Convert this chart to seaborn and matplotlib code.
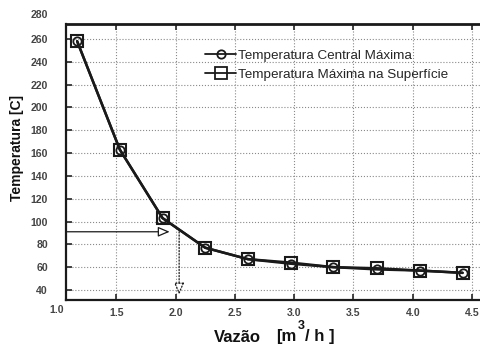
import matplotlib
matplotlib.use("Agg")
import matplotlib.pyplot as plt
from matplotlib.lines import Line2D
import numpy as np
import pandas as pd
import seaborn as sns

# ---- data ----
vazao = [1.17, 1.53, 1.89, 2.25, 2.61, 2.97, 3.33, 3.70, 4.06, 4.42]
temp_central = [258, 163, 103, 77, 67, 63, 60, 58, 57, 55]
temp_superficie = [258, 163, 103, 77, 67, 64, 60, 59, 57, 55]
series_names = ["Temperatura Central Máxima", "Temperatura Máxima na Superfície"]
x_ticks = [1.5, 2.0, 2.5, 3.0, 3.5, 4.0, 4.5]
y_ticks = [40, 60, 80, 100, 120, 140, 160, 180, 200, 220, 240, 260]
extra_x_label = "1.0"
extra_y_label = "280"
design_temp = 91
design_flow = 2.03

sns.set_style("white")
plt.rcParams["font.family"] = ["Liberation Sans", "DejaVu Sans"]

df = pd.DataFrame({
    "Vazão": vazao * 2,
    "Temperatura": temp_central + temp_superficie,
    "Série": [series_names[0]] * len(vazao) + [series_names[1]] * len(vazao),
})

fig = plt.figure(figsize=(4.8, 3.44), dpi=100)
ax = fig.add_axes([66 / 480, 44 / 344, 414 / 480, 276 / 344])

sns.lineplot(data=df[df["Série"] == series_names[1]], x="Vazão", y="Temperatura",
             ax=ax, color="#1a1a1a", lw=1.8, marker="s", markersize=8,
             markerfacecolor="none", markeredgecolor="#1a1a1a", markeredgewidth=1.5,
             legend=False)
sns.lineplot(data=df[df["Série"] == series_names[0]], x="Vazão", y="Temperatura",
             ax=ax, color="#1a1a1a", lw=1.8, marker="o", markersize=6,
             markerfacecolor="none", markeredgecolor="#1a1a1a", markeredgewidth=1.3,
             legend=False)

ax.set_xlim(1.076, 4.567)
ax.set_ylim(31.2, 273.1)
ax.set_xticks(x_ticks)
ax.set_yticks(y_ticks)
ax.set_xticklabels([f"{v:.1f}" for v in x_ticks])
ax.set_yticklabels([str(v) for v in y_ticks])
ax.grid(True, ls=":", color="#8a8a8a", lw=0.8)

for s in ["left", "bottom", "top"]:
    ax.spines[s].set_visible(True)
    ax.spines[s].set_color("#1a1a1a")
    ax.spines[s].set_linewidth(1.6)
ax.spines["top"].set_linewidth(2.0)
ax.spines["right"].set_visible(False)

tick_fs = 7.6
tick_col = "#444444"
ax.tick_params(axis="x", direction="in", top=True, bottom=True, length=4, width=1.2,
               pad=5.5, labelsize=tick_fs, labelcolor=tick_col)
ax.tick_params(axis="y", direction="in", left=True, length=4, width=1.2,
               pad=13, labelsize=tick_fs, labelcolor=tick_col)
for lab in ax.get_xticklabels() + ax.get_yticklabels():
    lab.set_fontweight("bold")

fig.text(57 / 480, 1 - 310 / 344, extra_x_label, ha="center", va="center",
         fontsize=tick_fs, fontweight="bold", color=tick_col)
fig.text(39 / 480, 1 - 15 / 344, extra_y_label, ha="center", va="center",
         fontsize=tick_fs, fontweight="bold", color=tick_col)

ax.set_ylabel("Temperatura [C]", fontsize=10, fontweight="bold", color="#111111")
ax.yaxis.set_label_coords((24 - 66) / 414, (300 - 148) / 276)
ax.set_xlabel("")
lab_kw = dict(va="center", fontsize=12, fontweight="bold", color="#111111")
fig.text(214 / 480, 1 - 337 / 344, "Vazão", ha="left", **lab_kw)
fig.text(276 / 480, 1 - 337 / 344, "[m", ha="left", **lab_kw)
fig.text(301 / 480, 1 - 326 / 344, "3", ha="center", va="center", fontsize=9,
         fontweight="bold", color="#111111")
fig.text(305 / 480, 1 - 337 / 344, "/ h ]", ha="left", **lab_kw)

# annotation arrows
ax.annotate("", xy=(1.95, design_temp), xytext=(1.076, design_temp),
            arrowprops=dict(arrowstyle="-|>,head_length=0.7,head_width=0.3",
                            fc="white", ec="#1a1a1a", lw=0.9, shrinkA=0, shrinkB=0))
ax.annotate("", xy=(design_flow, 36), xytext=(design_flow, design_temp),
            arrowprops=dict(arrowstyle="-|>,head_length=0.7,head_width=0.3",
                            fc="white", ec="#1a1a1a", lw=0.9, ls=(0, (1, 1.5)),
                            shrinkA=0, shrinkB=0))

handles = [
    Line2D([], [], color="#1a1a1a", lw=1.3, marker="o", markersize=6,
           markerfacecolor="none", markeredgewidth=1.3),
    Line2D([], [], color="#1a1a1a", lw=1.3, marker="s", markersize=8,
           markerfacecolor="none", markeredgewidth=1.3),
]
leg = ax.legend(handles, series_names, loc="upper left",
                bbox_to_anchor=(134 / 414, 1 - 20 / 276), frameon=False,
                fontsize=9.7, handlelength=2.3, handletextpad=0.15, labelspacing=0.5,
                borderaxespad=0)

fig.savefig("out.png", dpi=100)
